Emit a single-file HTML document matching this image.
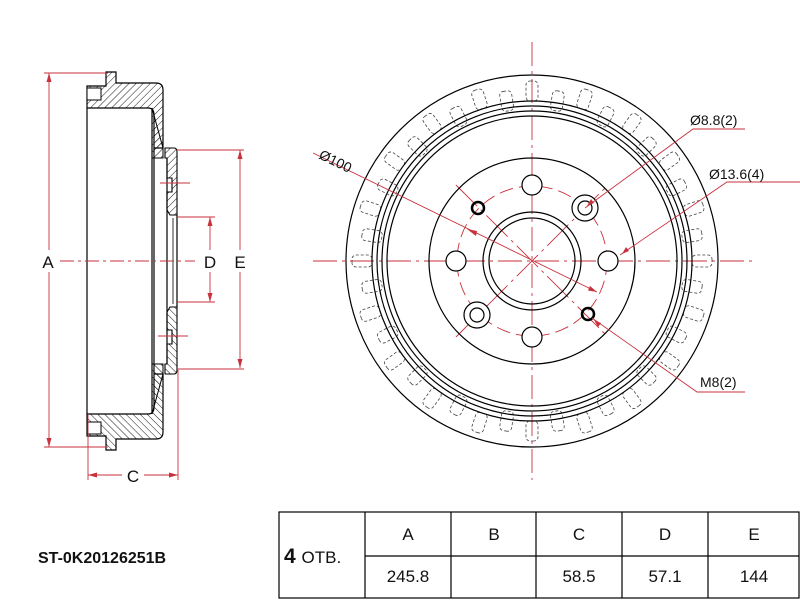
<!DOCTYPE html>
<html><head><meta charset="utf-8"><style>
html,body{margin:0;padding:0;background:#fff}
svg{display:block}
text{font-family:"Liberation Sans",Arial,sans-serif}
</style></head><body>
<svg width="800" height="600" viewBox="0 0 800 600" xmlns="http://www.w3.org/2000/svg">
<defs>
<pattern id="h" width="5" height="5" patternUnits="userSpaceOnUse" patternTransform="rotate(45)">
<line x1="0" y1="0" x2="0" y2="5" stroke="#000" stroke-width="0.9"/>
</pattern>
<g id="half">
<path d="M87,86 L106,86 L106,72 L116,72 L116,83 L156,83 Q163,83 163,90 L163,148 L154,148 L154,158 L154,115 Q154,108 148,108 L87,108 Z" fill="url(#h)" stroke="#000" stroke-width="1.2"/>
<rect x="87" y="88" width="14" height="12" fill="#fff" stroke="#000" stroke-width="1"/>
<path d="M152,108 L152,158 L163,158 L163,148 Z" fill="url(#h)" stroke="#000" stroke-width="1"/>
<path d="M165,148 L174,148 Q177,148 177,152 L177,215 L170,215 L167,210 L167,192 L172,192 L172,178 L167,178 L167,158 L165,158 Z" fill="url(#h)" stroke="#000" stroke-width="1.1"/>
</g>
<rect id="ra" x="-6" y="-180" width="12" height="20" rx="4"/>
<rect id="rb" x="-6" y="-172" width="12" height="20" rx="4"/>
</defs>

<!-- side view -->
<use href="#half"/>
<use href="#half" transform="translate(0,522) scale(1,-1)"/>
<g stroke="#000" stroke-width="1.2" fill="none">
<line x1="87" y1="108" x2="87" y2="414"/>
<line x1="152" y1="108" x2="152" y2="414"/>
<line x1="154" y1="158" x2="154" y2="364"/>
<line x1="167" y1="158" x2="167" y2="364"/>
<line x1="173" y1="218" x2="173" y2="304" stroke-width="0.8"/>
<line x1="177" y1="215" x2="177" y2="307"/>
</g>
<g stroke="#c8323c" stroke-width="0.9" fill="none">
<line x1="49" y1="73" x2="49" y2="447"/>
<line x1="44" y1="73" x2="108" y2="73"/>
<line x1="44" y1="447" x2="108" y2="447"/>
<line x1="240" y1="150" x2="240" y2="368"/>
<line x1="177" y1="150" x2="244" y2="150"/>
<line x1="177" y1="369" x2="244" y2="369"/>
<line x1="210" y1="217" x2="210" y2="302"/>
<line x1="177" y1="217" x2="215" y2="217"/>
<line x1="177" y1="302" x2="215" y2="302"/>
<line x1="88" y1="475" x2="178" y2="475"/>
<line x1="88" y1="415" x2="88" y2="480"/>
<line x1="178" y1="370" x2="178" y2="480"/>
<line x1="60" y1="261" x2="195" y2="261" stroke-dasharray="14,4,3,4"/>
<line x1="160" y1="183" x2="190" y2="183"/>
<line x1="158" y1="336" x2="188" y2="336"/>
</g>
<g fill="#c8323c">
<path d="M49,73 l-2.5,9 h5z"/><path d="M49,447 l-2.5,-9 h5z"/>
<path d="M240,150 l-2.5,9 h5z"/><path d="M240,368 l-2.5,-9 h5z"/>
<path d="M210,217 l-2.5,9 h5z"/><path d="M210,302 l-2.5,-9 h5z"/>
<path d="M88,475 l9,-2.5 v5z"/><path d="M178,475 l-9,-2.5 v5z"/>
</g>
<g font-size="17" text-anchor="middle" fill="#111">
<rect x="40" y="250" width="18" height="22" fill="#fff"/>
<text x="48" y="268">A</text>
<rect x="200" y="250" width="20" height="22" fill="#fff"/>
<text x="210" y="268">D</text>
<rect x="230" y="250" width="20" height="22" fill="#fff"/>
<text x="240" y="268">E</text>
<rect x="122" y="465" width="22" height="22" fill="#fff"/>
<text x="133" y="482">C</text>
</g>

<!-- front view -->
<g stroke="#c8323c" stroke-width="0.9" fill="none">
<line x1="532" y1="42" x2="532" y2="480" stroke-dasharray="24,5,3,5"/>
<line x1="313" y1="261" x2="752" y2="261" stroke-dasharray="24,5,3,5"/>
<circle cx="532" cy="261" r="75" stroke-dasharray="14,6"/>
<line x1="456" y1="185" x2="608" y2="337" stroke-dasharray="30,5,3,5"/>
<line x1="456" y1="337" x2="608" y2="185" stroke-dasharray="30,5,3,5"/>
</g>
<g stroke="#444" stroke-width="0.8" fill="none" stroke-dasharray="3,2" transform="translate(532,261)">
<use href="#ra" transform="rotate(0)"/><use href="#rb" transform="rotate(9)"/>
<use href="#ra" transform="rotate(18)"/><use href="#rb" transform="rotate(27)"/>
<use href="#ra" transform="rotate(36)"/><use href="#rb" transform="rotate(45)"/>
<use href="#ra" transform="rotate(54)"/><use href="#rb" transform="rotate(63)"/>
<use href="#ra" transform="rotate(72)"/><use href="#rb" transform="rotate(81)"/>
<use href="#ra" transform="rotate(90)"/><use href="#rb" transform="rotate(99)"/>
<use href="#ra" transform="rotate(108)"/><use href="#rb" transform="rotate(117)"/>
<use href="#ra" transform="rotate(126)"/><use href="#rb" transform="rotate(135)"/>
<use href="#ra" transform="rotate(144)"/><use href="#rb" transform="rotate(153)"/>
<use href="#ra" transform="rotate(162)"/><use href="#rb" transform="rotate(171)"/>
<use href="#ra" transform="rotate(180)"/><use href="#rb" transform="rotate(189)"/>
<use href="#ra" transform="rotate(198)"/><use href="#rb" transform="rotate(207)"/>
<use href="#ra" transform="rotate(216)"/><use href="#rb" transform="rotate(225)"/>
<use href="#ra" transform="rotate(234)"/><use href="#rb" transform="rotate(243)"/>
<use href="#ra" transform="rotate(252)"/><use href="#rb" transform="rotate(261)"/>
<use href="#ra" transform="rotate(270)"/><use href="#rb" transform="rotate(279)"/>
<use href="#ra" transform="rotate(288)"/><use href="#rb" transform="rotate(297)"/>
<use href="#ra" transform="rotate(306)"/><use href="#rb" transform="rotate(315)"/>
<use href="#ra" transform="rotate(324)"/><use href="#rb" transform="rotate(333)"/>
<use href="#ra" transform="rotate(342)"/><use href="#rb" transform="rotate(351)"/>
</g>
<g stroke="#000" stroke-width="1.2" fill="none">
<circle cx="532" cy="261" r="186"/>
<circle cx="532" cy="261" r="160"/>
<circle cx="532" cy="261" r="155"/>
<circle cx="532" cy="261" r="150"/>
<circle cx="532" cy="261" r="145"/>
<circle cx="532" cy="261" r="103"/>
<circle cx="532" cy="261" r="49"/>
<circle cx="532" cy="261" r="43"/>
<circle cx="532" cy="185" r="10" fill="#fff"/>
<circle cx="532" cy="337" r="10" fill="#fff"/>
<circle cx="456" cy="261" r="10" fill="#fff"/>
<circle cx="608" cy="261" r="10" fill="#fff"/>
<circle cx="585" cy="208" r="13" fill="#fff"/>
<circle cx="585" cy="208" r="7"/>
<circle cx="477" cy="315" r="13" fill="#fff"/>
<circle cx="477" cy="315" r="7"/>
<circle cx="478" cy="208" r="6" stroke-width="2.5"/>
<circle cx="588" cy="314" r="6" stroke-width="2.5"/>
</g>
<g stroke="#c8323c" stroke-width="0.9" fill="none">
<line x1="313" y1="153" x2="597" y2="292"/>
<polyline points="585,208 693,129 745,129"/>
<polyline points="620,255 727,182 800,182"/>
<polyline points="592,318 697,392 745,392"/>
</g>
<g fill="#c8323c">
<path d="M467,229 l9,7 l1,-5z"/>
<path d="M597,292 l-9,-1.5 l2,-4.5z"/>
<path d="M587,206 l4,-7 l3,4z"/>
<path d="M622,254 l4,-7 l3,4z"/>
<path d="M594,320 l4,7 l3,-4z"/>
</g>
<g font-size="14" fill="#111">
<text x="318" y="158" transform="rotate(26 318 158)">Ø100</text>
<text x="690" y="125">Ø8.8(2)</text>
<text x="709" y="179">Ø13.6(4)</text>
<text x="700" y="387">M8(2)</text>
</g>

<!-- title & table -->
<text x="38" y="563" font-size="16" font-weight="bold" fill="#111">ST-0K20126251B</text>
<g stroke="#000" stroke-width="1.2" fill="none">
<rect x="279" y="512" width="520" height="86"/>
<line x1="365" y1="556" x2="799" y2="556"/>
<line x1="365" y1="512" x2="365" y2="598"/>
<line x1="451" y1="512" x2="451" y2="598"/>
<line x1="536" y1="512" x2="536" y2="598"/>
<line x1="622" y1="512" x2="622" y2="598"/>
<line x1="708" y1="512" x2="708" y2="598"/>
</g>
<text x="284" y="563" font-size="21" font-weight="bold" fill="#111">4 <tspan font-size="17" font-weight="normal">ОТВ.</tspan></text>
<g font-size="17" text-anchor="middle" fill="#111">
<text x="408" y="540">A</text><text x="494" y="540">B</text><text x="579" y="540">C</text><text x="665" y="540">D</text><text x="754" y="540">E</text>
<text x="408" y="582">245.8</text><text x="579" y="582">58.5</text><text x="665" y="582">57.1</text><text x="754" y="582">144</text>
</g>
</svg>
</body></html>
